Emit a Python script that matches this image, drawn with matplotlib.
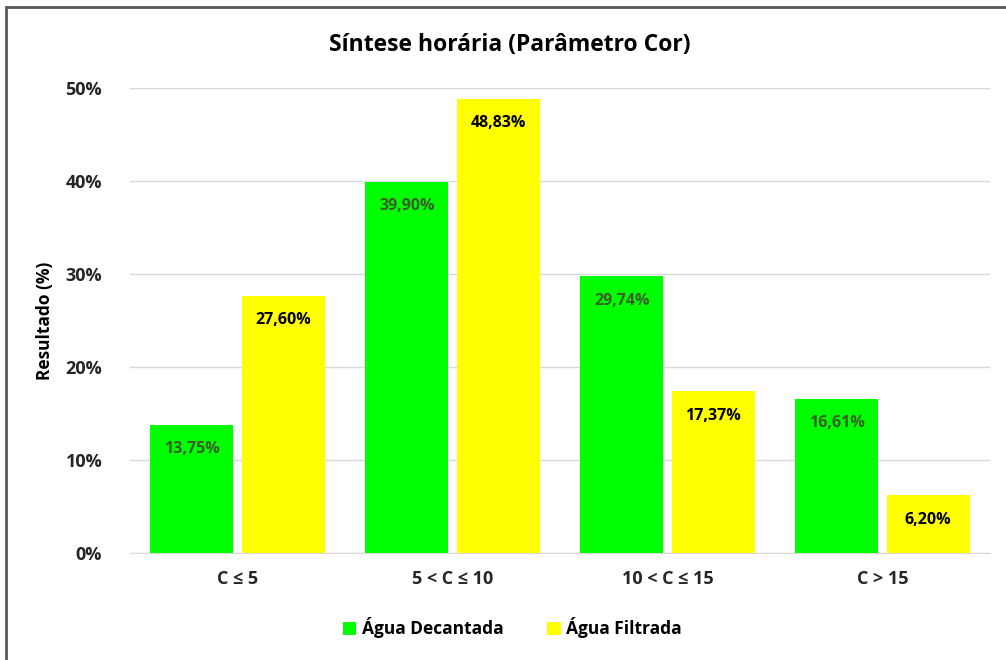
import matplotlib
matplotlib.use("Agg")
import matplotlib.pyplot as plt
import numpy as np
from matplotlib.patches import Rectangle

plt.rcParams['font.family'] = ['Open Sans', 'DejaVu Sans']

categorias = ['C ≤ 5', '5 < C ≤ 10', '10 < C ≤ 15', 'C > 15']
decantada = [13.75, 39.90, 29.74, 16.61]
filtrada = [27.60, 48.83, 17.37, 6.20]

verde = '#00ff00'
amarelo = '#ffff00'

fig = plt.figure(figsize=(10.06, 6.6), dpi=100)
ax = fig.add_axes([130 / 1006, 107 / 660, 860 / 1006, 465 / 660])

x = np.arange(len(categorias))
w = 0.385
gap = 0.02
b1 = ax.bar(x - w / 2 - gap, decantada, w, color=verde, label='Água Decantada', zorder=3)
b2 = ax.bar(x + w / 2 + gap, filtrada, w, color=amarelo, label='Água Filtrada', zorder=3)

# rótulos dentro das barras
for rect, v in zip(b1, decantada):
    ax.text(rect.get_x() + rect.get_width() / 2, v - 2.6, f'{v:.2f}%'.replace('.', ','),
            ha='center', va='center', fontsize=11.5, fontweight='bold', color='#3b5e27', zorder=4)
for rect, v in zip(b2, filtrada):
    ax.text(rect.get_x() + rect.get_width() / 2, v - 2.6, f'{v:.2f}%'.replace('.', ','),
            ha='center', va='center', fontsize=11.5, fontweight='bold', color='black', zorder=4)

ax.set_xlim(-0.5, 3.5)
ax.set_ylim(0, 50)
ax.set_yticks(np.arange(0, 51, 10))
ax.set_yticklabels([f'{t}%' for t in range(0, 51, 10)], fontsize=13, fontweight='bold', color='#262626')
ax.set_xticks(x)
ax.set_xticklabels(categorias, fontsize=13, fontweight='bold', color='#262626')
ax.tick_params(axis='both', length=0)
ax.tick_params(axis='y', pad=20)
ax.tick_params(axis='x', pad=12)
ax.grid(axis='y', color='#d9d9d9', linewidth=1, zorder=0)
for s in ['top', 'right', 'left']:
    ax.spines[s].set_visible(False)
ax.spines['bottom'].set_color('#d9d9d9')

ax.set_ylabel('Resultado (%)', fontsize=12.5, fontweight='bold', color='black', labelpad=8)
fig.text(510 / 1006, 1 - 45 / 660, 'Síntese horária (Parâmetro Cor)', ha='center', va='center',
         fontsize=16.5, fontweight='bold', color='black')

fig.legend(handles=[b1, b2], loc='center', bbox_to_anchor=(512 / 1006, 1 - 628 / 660),
           ncol=2, frameon=False, handlelength=0.8, handleheight=0.8,
           handletextpad=0.3, columnspacing=2.5, prop={'weight': 'bold', 'size': 12.5})

fig.patches.append(Rectangle((6 / 1006, -0.05), 1.1, 1 - 7 / 660 + 0.05, transform=fig.transFigure,
                             fill=False, edgecolor='#595959', linewidth=2))

fig.savefig('out.png', dpi=100)
